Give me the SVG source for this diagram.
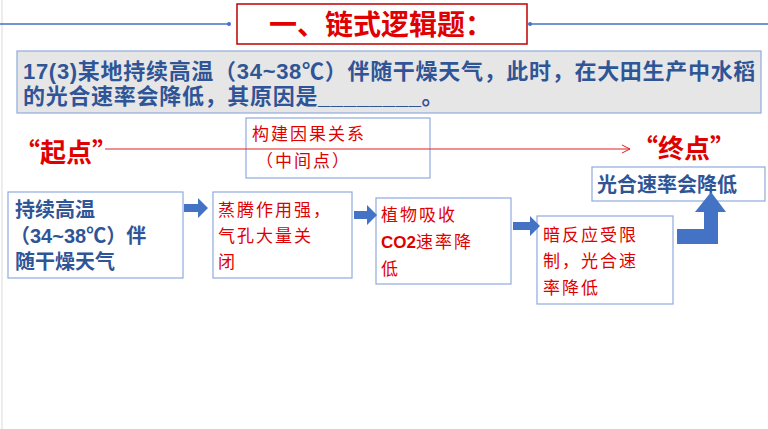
<svg xmlns="http://www.w3.org/2000/svg" width="768" height="429" viewBox="0 0 768 429">
<defs>
<style>
.bx{fill:#fff;stroke:#8faadc;stroke-width:1.2}
.b{font-family:"Liberation Sans","Noto Sans CJK SC",sans-serif;font-weight:bold;fill:#2f5597;font-size:20px}
.q{font-size:22px;letter-spacing:0.7px}
.r{font-family:"Noto Sans CJK SC",sans-serif;fill:#e00000;font-size:17px;letter-spacing:2px}
.ba{fill:#4472c4}
</style>
<marker id="ah" markerWidth="10" markerHeight="10" refX="9" refY="5" orient="auto" markerUnits="userSpaceOnUse"><path d="M1,1 L9,5 L1,9" fill="none" stroke="#e02020" stroke-width="1"/></marker>
</defs>
<rect width="768" height="429" fill="#fff"/>
<line x1="2" y1="0" x2="2" y2="429" stroke="#d9d9d9"/>
<g id="title">
<line x1="0" y1="24" x2="229" y2="24" stroke="#4472c4" stroke-width="1.5"/>
<circle cx="229" cy="24" r="2" fill="#4472c4"/>
<line x1="530" y1="24" x2="768" y2="24" stroke="#4472c4" stroke-width="1.5"/>
<circle cx="530" cy="24" r="2" fill="#4472c4"/>
<rect x="237" y="4" width="290" height="40" fill="#fff" stroke="#c00000" stroke-width="1.5"/>
<text x="381" y="35" text-anchor="middle" font-family="Noto Sans CJK SC,sans-serif" font-size="28" font-weight="bold" fill="#e00000">一、链式逻辑题：</text>
</g>
<g id="question">
<rect x="17" y="51" width="744" height="62" fill="#e7e6e6" stroke="#8faadc" stroke-width="1.2"/>
<text class="b q" x="23" y="79">17(3)某地持续高温（34~38℃）伴随干燥天气，此时，在大田生产中水稻</text>
<text class="b q" x="23" y="104">的光合速率会降低，其原因是________。</text>
</g>
<g id="middle">
<rect class="bx" x="246" y="118" width="184" height="60"/>
<text class="r" x="252" y="140">构建因果关系</text>
<text class="r" x="256" y="167">（中间点）</text>
</g>
<g id="start"><text x="14" y="162" font-family="Noto Sans CJK SC,sans-serif" font-size="26" font-weight="bold" fill="#e00000">“起点”</text></g>
<g id="end"><text x="632" y="158" font-family="Noto Sans CJK SC,sans-serif" font-size="26" font-weight="bold" fill="#e00000">“终点”</text></g>
<g id="result">
<rect class="bx" x="592" y="167" width="173" height="34"/>
<text class="b" x="597" y="192">光合速率会降低</text>
</g>
<g id="n1">
<rect class="bx" x="8" y="192" width="175" height="86"/>
<text class="b" x="15" y="217">持续高温</text>
<text class="b" x="10" y="243">（34~38℃）伴</text>
<text class="b" x="15" y="269">随干燥天气</text>
</g>
<g id="n2">
<rect class="bx" x="213" y="192" width="139" height="86"/>
<text class="r" x="218" y="216">蒸腾作用强，</text>
<text class="r" x="218" y="242">气孔大量关</text>
<text class="r" x="218" y="268">闭</text>
</g>
<g id="n3">
<rect class="bx" x="376" y="198" width="135" height="86"/>
<text class="r" x="381" y="221">植物吸收</text>
<text class="r" x="381" y="248"><tspan font-weight="bold" font-family="Liberation Sans,sans-serif" letter-spacing="0">CO2</tspan>速率降</text>
<text class="r" x="381" y="275">低</text>
</g>
<g id="n4">
<rect class="bx" x="537" y="216" width="136" height="88"/>
<text class="r" x="543" y="241">暗反应受限</text>
<text class="r" x="543" y="267">制，光合速</text>
<text class="r" x="543" y="294">率降低</text>
</g>
<g id="connectors">
<line x1="105" y1="149" x2="630" y2="149" stroke="#e02020" stroke-width="1" marker-end="url(#ah)"/>
<path class="ba" d="M184,204 h14 v-6 l10,10 l-10,10 v-6 h-14 z"/>
<path class="ba" d="M354,211 h13 v-6 l10,10 l-10,10 v-6 h-13 z"/>
<path class="ba" d="M513,222 h17 v-6 l10,10 l-10,10 v-6 h-17 z"/>
<path class="ba" d="M677,229 h27 v-17 h-9 l16,-20 l15,20 h-8 v32 h-41 z"/>
</g>
</svg>
